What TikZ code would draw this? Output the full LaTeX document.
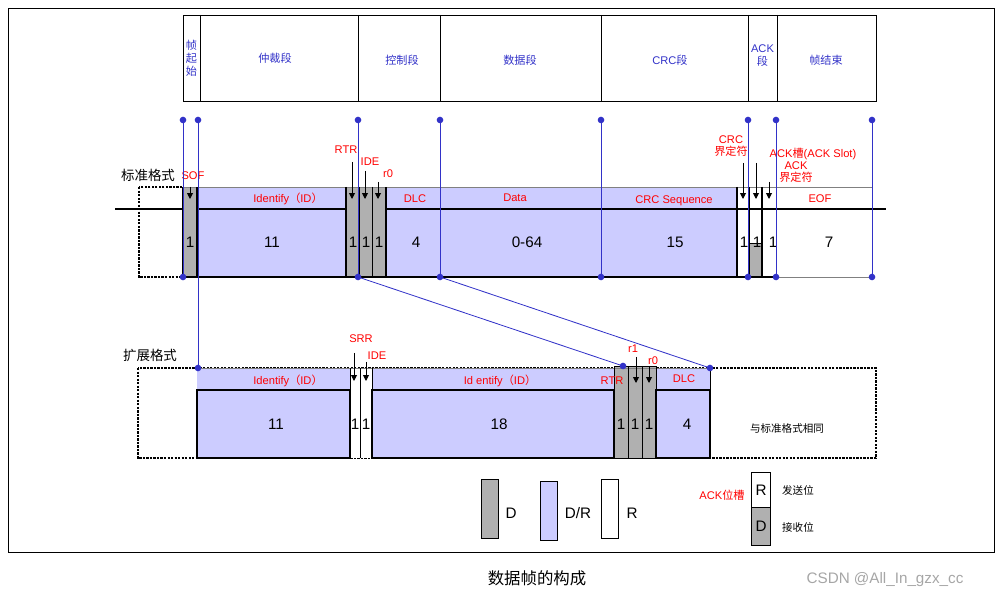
\documentclass[tikz,border=0pt]{standalone}
\usepackage{fontspec}
\setmainfont{Liberation Sans}
\newfontfamily\cjk{Noto Sans CJK SC}
\usetikzlibrary{arrows.meta}
\definecolor{lav}{RGB}{204,204,255}
\definecolor{gr}{RGB}{176,176,176}
\definecolor{bl}{RGB}{50,50,200}
\begin{document}
\begin{tikzpicture}[x=0.03cm,y=-0.03cm,
 red/.style={text=red,font=\fontsize{9.5}{10}\selectfont,inner sep=0},
 num/.style={font=\fontsize{13}{13}\selectfont,inner sep=0},
 hd/.style={text=bl,font=\fontsize{9.5}{11}\selectfont\cjk,inner sep=0,align=center},
 vl/.style={bl,line width=0.7pt},
 dot/.style={circle,fill=bl,inner sep=2pt},
 arr/.style={-{Triangle[length=5pt,width=5pt]},line width=0.8pt},
 dotbox/.style={densely dotted,line width=2pt},
 thk/.style={line width=2pt}]
\useasboundingbox (0,0) rectangle (1001,599);
\draw[line width=0.6pt] (8,8) rectangle (994,552);
% header
\draw[line width=0.8pt] (183,15) rectangle (876,101);
\foreach \x in {200,358,440,601,748,777} \draw[line width=0.8pt] (\x,15)--(\x,101);
\node[hd] (h1) at (191.5,58) {帧\\起\\始};
\node[hd] (h2) at (275,58) {仲裁段};
\node[hd] (h3) at (402,60) {控制段};
\node[hd] (h4) at (520,60) {数据段};
\node[hd,font=\fontsize{9.5}{11}\selectfont] (h5) at (670,60) {CRC{\cjk 段}};
\node[hd,font=\fontsize{9.5}{11}\selectfont] (h6) at (762.5,56) {ACK\\{\cjk 段}};
\node[hd] (h7) at (826,60) {帧结束};
% standard row
\draw[thk] (115,209)--(886,209);
\draw[dotbox] (139,187) rectangle (183,277);
\fill[lav] (197,187) rectangle (346,277);
\fill[lav] (386,187) rectangle (737,277);
\fill[gr] (183,187) rectangle (197,277);
\fill[gr] (346,187) rectangle (386,277);
\fill[white] (737,187) rectangle (872,277);
\fill[gr] (749,243) rectangle (762,277);
\draw[gray,line width=0.8pt] (183,187)--(872,187);
\draw[thk] (197,209) rectangle (346,277);
\draw[thk] (386,209) rectangle (737,277);
\draw[thk] (183,187)--(183,277)--(197,277)--(197,187);
\draw[thk] (346,187)--(346,277)--(386,277)--(386,187);
\draw[line width=0.8pt] (359,187)--(359,277) (372,187)--(372,277);
\draw[line width=0.8pt] (440,209)--(440,277);
\draw[thk] (737,187)--(737,277)--(776,277);
\draw[thk] (749,209)--(749,277) (762,187)--(762,277);
\draw[line width=0.8pt] (749,187)--(749,209) (776,187)--(776,277) (749,243)--(762,243);
\draw[thk] (737,209)--(886,209);
\draw[line width=0.6pt,gray] (776,277)--(872,277)--(872,187);
\node[num] (n1) at (190,242) {1};
\node[num] (n2) at (272,242) {11};
\node[num] (n3) at (353,242) {1};
\node[num] (n4) at (366,242) {1};
\node[num] (n5) at (379,242) {1};
\node[num] (n6) at (416,242) {4};
\node[num] (n7) at (527,242) {0-64};
\node[num] (n8) at (675,242) {15};
\node[num] (n9) at (744,242) {1};
\node[num] (n10) at (757,242) {1};
\node[num] (n11) at (773,242) {1};
\node[num] (n12) at (829,242) {7};
\node[red] (sof) at (193,176) {SOF};
\node[red] (id1) at (288,199) {Identify{\cjk （}ID{\cjk ）}};
\node[red] (rtr) at (346,150) {RTR};
\node[red] (ide) at (370,162) {IDE};
\node[red] (r0) at (388,174) {r0};
\node[red] (dlc) at (415,199) {DLC};
\node[red] (data) at (515,198) {Data};
\node[red] (crcs) at (674,201) {CRC Sequence};
\node[red] (eof) at (820,199) {EOF};
\node[red,align=center] (crcd) at (731,146) {CRC\\{\cjk 界定符}};
\node[red] (acks) at (813,154) {ACK{\cjk 槽}(ACK Slot)};
\node[red,align=center] (ackd) at (796,172) {ACK\\{\cjk 界定符}};
\coordinate (a1) at (190,187); \draw[arr] (a1)--++(0,12);
\coordinate (a2) at (352,162); \draw[arr] (a2)--(352,199);
\coordinate (a3) at (365,171); \draw[arr] (a3)--(365,199);
\coordinate (a4) at (378,182); \draw[arr] (a4)--(378,199);
\coordinate (a5) at (743,163); \draw[arr] (a5)--(743,199);
\coordinate (a6) at (756,163); \draw[arr] (a6)--(756,199);
\coordinate (a7) at (769,182); \draw[arr] (a7)--(769,199);
\node[font=\fontsize{11.5}{12}\selectfont\cjk,inner sep=0] (std) at (148,175) {标准格式};
\node[font=\fontsize{11.5}{12}\selectfont\cjk,inner sep=0] (ext) at (150,355) {扩展格式};
% extended row
\draw[dotbox] (138,368) rectangle (876,458);
\fill[lav] (197,368) rectangle (350,458);
\fill[white] (350,368) rectangle (372,458);
\fill[lav] (372,368) rectangle (614,458);
\fill[gr] (614,366) rectangle (656,458);
\fill[lav] (656,368) rectangle (710,458);
\draw[gray,line width=0.8pt] (197,368)--(710,368);
\draw[thk] (197,390) rectangle (350,458);
\draw[thk] (372,390) rectangle (614,458);
\draw[thk] (656,390) rectangle (710,458);
\draw[line width=0.8pt] (350,368)--(350,458) (360,368)--(360,458) (372,368)--(372,390);
\draw[line width=0.8pt] (614,366) rectangle (656,458) (628,366)--(628,458) (642,366)--(642,458);
\draw[line width=0.8pt] (710,368)--(710,458);
\node[num] (e1) at (276,424) {11};
\node[num] (e2) at (355,424) {1};
\node[num] (e3) at (366,424) {1};
\node[num] (e4) at (499,424) {18};
\node[num] (e5) at (621,424) {1};
\node[num] (e6) at (635,424) {1};
\node[num] (e7) at (649,424) {1};
\node[num] (e8) at (687,424) {4};
\node[font=\fontsize{9}{9}\selectfont\cjk,inner sep=0] (same) at (787,428) {与标准格式相同};
\node[red] (eid1) at (288,381) {Identify{\cjk （}ID{\cjk ）}};
\node[red] (eid2) at (500,381) {Id entify{\cjk （}ID{\cjk ）}};
\node[red] (srr) at (361,339) {SRR};
\node[red] (eide) at (377,356) {IDE};
\node[red] (ertr) at (612,381) {RTR};
\node[red] (er1) at (633,349) {r1};
\node[red] (er0) at (653,361) {r0};
\node[red] (edlc) at (684,379) {DLC};
\coordinate (b1) at (354,353); \draw[arr] (b1)--(354,381);
\coordinate (b2) at (366,362); \draw[arr] (b2)--(366,381);
\coordinate (b3) at (636,357); \draw[arr] (b3)--(636,383);
\coordinate (b4) at (649,366); \draw[arr] (b4)--(649,383);
% blue guide lines
\foreach \x/\n in {183/p1,358/p3,440/p4,601/p5,748/p6,776/p7,872/p8}{
  \node[dot] (\n t) at (\x,120) {}; \node[dot] (\n b) at (\x,277) {};
  \draw[vl] (\n t.center)--(\n b.center);}
\node[dot] (p2t) at (198,120) {}; \node[dot] (p2b) at (198,368) {};
\draw[vl] (p2t.center)--(p2b.center);
\node[dot] (q1) at (623,366) {}; \node[dot] (q2) at (710,368) {};
\draw[vl] (p3b.center)--(q1.center);
\draw[vl] (p4b.center)--(q2.center);
% legend
\draw[line width=0.8pt,fill=gr] (481,479) rectangle (498,538);
\node[num] (lD) at (511,513) {D};
\draw[line width=0.8pt,fill=lav] (540,481) rectangle (557,540);
\node[num] (lDR) at (578,513) {D/R};
\draw[line width=0.8pt,fill=white] (601,479) rectangle (618,538);
\node[num] (lR) at (632,513) {R};
\node[red] (ackw) at (722,495) {ACK{\cjk 位槽}};
\draw[line width=0.8pt,fill=white] (751,472) rectangle (770,507);
\draw[line width=0.8pt,fill=gr] (751,507) rectangle (770,545);
\node[num] (kR) at (761,490) {R};
\node[num] (kD) at (761,526) {D};
\node[font=\fontsize{9}{9}\selectfont\cjk,inner sep=0] (send) at (798,490) {发送位};
\node[font=\fontsize{9}{9}\selectfont\cjk,inner sep=0] (recv) at (798,527) {接收位};
\node[font=\fontsize{14}{14}\selectfont\cjk,inner sep=0] (cap) at (537,578) {数据帧的构成};
\node[text=gray!70,font=\fontsize{13}{13}\selectfont,inner sep=0] (wm) at (885,580) {CSDN @All\_In\_gzx\_cc};
\end{tikzpicture}
\end{document}
